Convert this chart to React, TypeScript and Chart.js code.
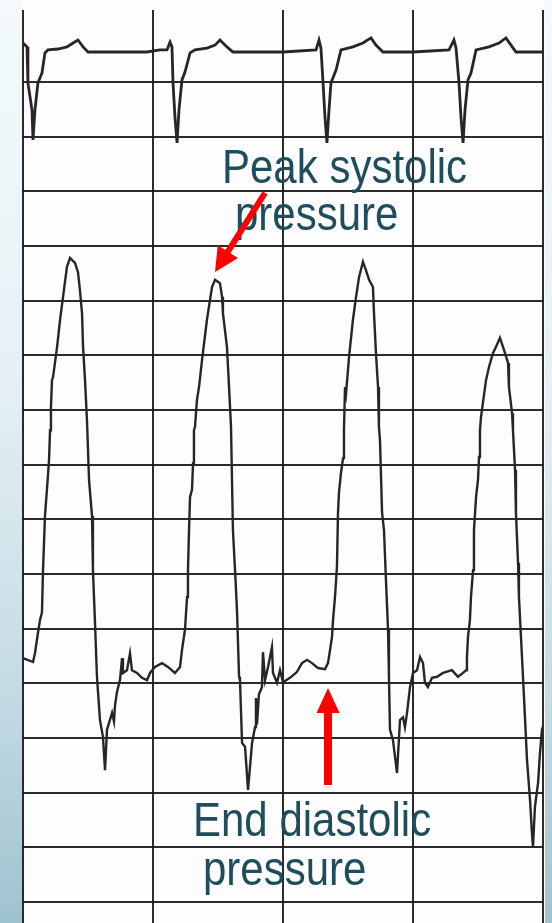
import React, { useEffect, useRef, useState } from 'react';
import { Chart, registerables } from 'chart.js';

Chart.register(...registerables);

// time axis (s) – one major division per second
const timeTicks = [0, 1, 2, 3, 4];
// pressure axis (mmHg) – one major division per 10 mmHg
const pressureTicks = [0, 10, 20, 30, 40, 50, 60, 70, 80, 90, 100, 110, 120, 130, 140, 150];

// LV pressure trace [time s, mmHg], one array per beat
const pressureBeat1: number[][] = [
  [0, 44.6], [0.077, 43.9], [0.092, 45.5], [0.115, 49.2], [0.131, 51.6], [0.146, 53.0],
  [0.154, 60.7], [0.169, 70.6], [0.185, 75.7], [0.2, 80.7], [0.208, 86.3], [0.215, 90.5],
  [0.223, 95.5], [0.231, 96.0], [0.262, 101.5], [0.285, 106.5], [0.308, 110.7], [0.338, 116.2],
  [0.362, 117.8], [0.4, 116.9], [0.423, 115.2], [0.438, 111.9], [0.454, 107.7], [0.462, 101.5],
  [0.477, 95.5], [0.492, 88.2], [0.508, 77.2], [0.531, 70.6], [0.538, 60.7], [0.554, 51.0],
  [0.569, 41.2], [0.592, 33.3], [0.615, 30.2], [0.631, 24.1], [0.646, 31.5], [0.669, 33.3],
  [0.685, 34.6], [0.7, 33.0], [0.708, 36.0], [0.723, 38.4], [0.746, 40.6], [0.762, 44.6],
  [0.769, 41.9], [0.8, 42.4], [0.823, 45.5], [0.838, 42.4], [0.877, 41.9], [0.915, 41.0],
  [0.954, 40.6], [0.977, 41.9], [1.015, 43.0], [1.069, 43.7], [1.115, 43.0], [1.169, 41.9],
  [1.208, 43.0],
];
const pressureBeat2: number[][] = [
  [1.223, 46.1], [1.246, 49.8], [1.262, 55.8], [1.269, 60.7], [1.277, 68.0], [1.285, 74.1],
  [1.3, 75.4], [1.308, 80.3], [1.315, 86.3], [1.323, 86.9], [1.338, 91.8], [1.354, 94.2],
  [1.377, 99.1], [1.415, 106.5], [1.454, 112.5], [1.477, 113.8], [1.515, 113.2], [1.531, 110.7],
  [1.538, 107.7], [1.569, 101.5], [1.585, 94.2], [1.6, 86.9], [1.615, 68.0], [1.631, 60.7],
  [1.646, 53.4], [1.662, 41.2], [1.669, 40.6], [1.685, 29.1], [1.708, 28.4], [1.731, 20.5],
  [1.762, 29.1], [1.785, 32.0], [1.792, 37.3], [1.8, 32.5], [1.815, 38.0], [1.838, 39.3],
  [1.846, 45.7], [1.862, 40.6], [1.885, 43.0], [1.915, 46.6], [1.923, 41.9], [1.954, 40.1],
  [1.977, 42.4], [2.0, 40.2], [2.054, 41.0], [2.108, 42.1], [2.146, 43.7], [2.185, 44.3],
  [2.223, 43.7], [2.269, 42.8], [2.323, 42.6],
];
const pressureBeat3: number[][] = [
  [2.346, 43.7], [2.362, 46.1], [2.377, 48.5], [2.385, 51.6], [2.4, 55.8], [2.415, 61.3],
  [2.423, 71.2], [2.431, 75.0], [2.446, 78.5], [2.462, 81.2], [2.469, 86.3], [2.477, 94.2],
  [2.485, 93.0], [2.508, 99.7], [2.538, 106.5], [2.562, 110.7], [2.585, 114.3], [2.615, 117.1],
  [2.638, 115.6], [2.662, 113.8], [2.692, 112.5], [2.7, 107.7], [2.715, 100.4], [2.731, 94.2],
  [2.738, 86.9], [2.746, 84.5], [2.762, 71.2], [2.777, 68.0], [2.792, 58.9], [2.808, 49.8],
  [2.815, 41.2], [2.823, 31.5], [2.846, 29.6], [2.877, 23.6], [2.9, 33.3], [2.923, 33.8],
  [2.938, 32.0], [2.954, 34.6], [2.977, 39.3], [3.0, 41.9], [3.031, 42.4], [3.054, 44.8],
  [3.077, 43.7], [3.092, 40.1], [3.115, 39.3], [3.146, 41.0], [3.185, 41.2], [3.231, 41.9],
  [3.3, 42.4], [3.346, 41.2], [3.385, 41.9], [3.408, 42.4],
];
const pressureBeat4: number[][] = [
  [3.415, 44.8], [3.423, 48.5], [3.438, 51.6], [3.446, 55.8], [3.462, 60.7], [3.469, 68.0],
  [3.485, 74.1], [3.5, 77.2], [3.508, 81.4], [3.515, 86.3], [3.523, 88.7], [3.562, 95.5],
  [3.585, 97.9], [3.615, 100.4], [3.638, 101.5], [3.669, 103.2], [3.7, 101.0], [3.731, 98.6],
  [3.738, 94.2], [3.762, 89.4], [3.769, 86.3], [3.785, 79.0], [3.792, 71.2], [3.808, 62.0],
  [3.815, 55.8], [3.846, 41.2], [3.85, 39.3], [3.877, 26.0], [3.9, 18.7], [3.915, 12.6],
  [3.923, 10.1], [3.938, 17.4], [3.962, 21.8], [3.977, 27.3], [3.992, 31.5], [4.015, 33.3],
];

// ECG trace [time s, mV]
const ecgTrace: number[][] = [
  [0, 0.3], [0.031, 0.17], [0.038, -1.03], [0.069, -1.93], [0.077, -2.93], [0.092, -1.93],
  [0.115, -1.03], [0.146, -0.7], [0.169, -0.03], [0.192, 0.07], [0.269, 0.1], [0.338, 0.17],
  [0.385, 0.3], [0.423, 0.4], [0.462, 0.17], [0.5, 0], [0.592, 0], [0.846, 0], [0.954, 0],
  [1.054, 0.07], [1.108, 0.07], [1.131, 0.33], [1.146, 0.17], [1.154, -1.03], [1.169, -2.17],
  [1.185, -3.03], [1.2, -1.93], [1.223, -0.93], [1.246, -0.67], [1.285, -0.03], [1.323, 0.07],
  [1.415, 0.13], [1.477, 0.23], [1.515, 0.4], [1.569, 0.17], [1.615, 0], [2.0, 0],
  [2.254, 0.07], [2.277, 0.4], [2.292, 0.13], [2.308, -1.03], [2.323, -2.17], [2.338, -3.03],
  [2.354, -1.93], [2.369, -1.03], [2.408, -0.6], [2.446, 0.07], [2.538, 0.17], [2.615, 0.3],
  [2.677, 0.47], [2.715, 0.23], [2.769, 0], [3.0, 0], [3.277, 0.07], [3.315, 0.4],
  [3.331, 0.13], [3.354, -1.03], [3.369, -2.17], [3.385, -3.03], [3.4, -1.93], [3.423, -0.93],
  [3.446, -0.7], [3.485, 0.07], [3.585, 0.17], [3.662, 0.3], [3.715, 0.47], [3.754, 0.23],
  [3.792, 0], [4.0, 0],
];

const labels = {
  peak: ['Peak systolic', 'pressure'],
  edp: ['End diastolic', 'pressure'],
};

const toXY = (arr: number[][]) => arr.map(([x, y]) => ({ x, y }));

function arrowPolygon(tx: number, ty: number, px: number, py: number, shaft: number, headL: number, headW: number) {
  const dx = px - tx, dy = py - ty;
  const len = Math.hypot(dx, dy);
  const ux = dx / len, uy = dy / len;
  const nx = -uy, ny = ux;
  const bx = px - ux * headL, by = py - uy * headL;
  const pts = [
    [tx + nx * shaft / 2, ty + ny * shaft / 2],
    [bx + nx * shaft / 2, by + ny * shaft / 2],
    [bx + nx * headW / 2, by + ny * headW / 2],
    [px, py],
    [bx - nx * headW / 2, by - ny * headW / 2],
    [bx - nx * shaft / 2, by - ny * shaft / 2],
    [tx - nx * shaft / 2, ty - ny * shaft / 2],
  ];
  return pts.map((p) => p[0].toFixed(1) + ',' + p[1].toFixed(1)).join(' ');
}

export default function App() {
  const canvasRef = useRef<HTMLCanvasElement | null>(null);
  const [arrows, setArrows] = useState<string[]>([]);

  useEffect(() => {
    const canvas = canvasRef.current;
    if (!canvas) return;
    const paper = {
      id: 'paper',
      beforeDraw(c: any) {
        const { ctx, chartArea: a } = c;
        ctx.save();
        ctx.fillStyle = '#fdfdfd';
        ctx.fillRect(a.left - 1, 0, a.right - a.left + 3, c.height);
        ctx.restore();
      },
    };
    const pressure = [...pressureBeat1, ...pressureBeat2, ...pressureBeat3, ...pressureBeat4];
    const gridStyle = { color: 'rgba(20,20,20,0.9)', lineWidth: 2, drawTicks: false };
    const chart = new Chart(canvas, {
      type: 'line',
      data: {
        datasets: [
          {
            label: 'LV pressure',
            data: toXY(pressure),
            yAxisID: 'y',
            borderColor: '#262626',
            borderWidth: 2.4,
            pointRadius: 0,
            tension: 0,
          },
          {
            label: 'ECG',
            data: toXY(ecgTrace),
            yAxisID: 'ecg',
            borderColor: '#262626',
            borderWidth: 2.8,
            pointRadius: 0,
            tension: 0,
          },
        ],
      },
      options: {
        responsive: false,
        animation: false,
        events: [],
        layout: { padding: { left: 23, right: 9, top: 10, bottom: 0 } },
        plugins: { legend: { display: false }, tooltip: { enabled: false } },
        scales: {
          x: {
            type: 'linear',
            min: 0,
            max: 4,
            grid: gridStyle,
            border: { display: false },
            ticks: { display: false },
            afterBuildTicks: (s: any) => { s.ticks = timeTicks.map((v) => ({ value: v })); },
            afterFit: (s: any) => { s.height = 0; },
          },
          y: {
            type: 'linear',
            min: -3.84,
            max: 163.16,
            grid: gridStyle,
            border: { display: false },
            ticks: { display: false },
            afterBuildTicks: (s: any) => { s.ticks = pressureTicks.map((v) => ({ value: v })); },
            afterFit: (s: any) => { s.width = 0; },
          },
          ecg: {
            type: 'linear',
            display: false,
            min: -29.033,
            max: 1.4,
          },
        },
      } as any,
      plugins: [paper],
    });

    // annotation anchors taken from the data
    const xs: any = chart.scales.x;
    const ys: any = chart.scales.y;
    const peak = pressureBeat2.reduce((m, p) => (p[1] > m[1] ? p : m), pressureBeat2[0]);
    const edp = pressureBeat3[0];
    const pkX = xs.getPixelForValue(peak[0]);
    const pkY = ys.getPixelForValue(peak[1]);
    const edX = xs.getPixelForValue(edp[0]);
    const edY = ys.getPixelForValue(edp[1]);
    setArrows([
      arrowPolygon(pkX + 50, pkY - 87, pkX, pkY - 8, 6, 24, 24),
      arrowPolygon(edX, edY + 122, edX, edY + 25, 8, 25, 23),
    ]);
    return () => chart.destroy();
  }, []);

  const textStyle: React.CSSProperties = {
    position: 'absolute',
    fontFamily: '"Liberation Sans", Arial, Helvetica, sans-serif',
    fontSize: 42,
    lineHeight: '42px',
    whiteSpace: 'nowrap',
    color: '#1f4d5c',
    transform: 'scaleY(1.14)',
    transformOrigin: '0 0',
  };

  return (
    <div
      style={{
        position: 'fixed',
        left: 0,
        top: 0,
        width: 552,
        height: 923,
        overflow: 'hidden',
        background: 'linear-gradient(180deg, #f4fafc 0%, #e6f1f5 40%, #c4dbe4 75%, #9fc2cf 100%)',
      }}
    >
      <canvas ref={canvasRef} width={552} height={923} style={{ display: 'block', position: 'absolute', left: 0, top: 0 }} />
      <div style={{ ...textStyle, left: 222, top: 142.5 }}>{labels.peak[0]}</div>
      <div style={{ ...textStyle, left: 235, top: 190 }}>{labels.peak[1]}</div>
      <div style={{ ...textStyle, left: 193, top: 795.5 }}>{labels.edp[0]}</div>
      <div style={{ ...textStyle, left: 203, top: 844.5 }}>{labels.edp[1]}</div>
      <svg width={552} height={923} style={{ position: 'absolute', left: 0, top: 0, pointerEvents: 'none' }}>
        {arrows.map((pts, i) => (
          <polygon key={i} points={pts} fill="#fe0000" />
        ))}
      </svg>
    </div>
  );
}
